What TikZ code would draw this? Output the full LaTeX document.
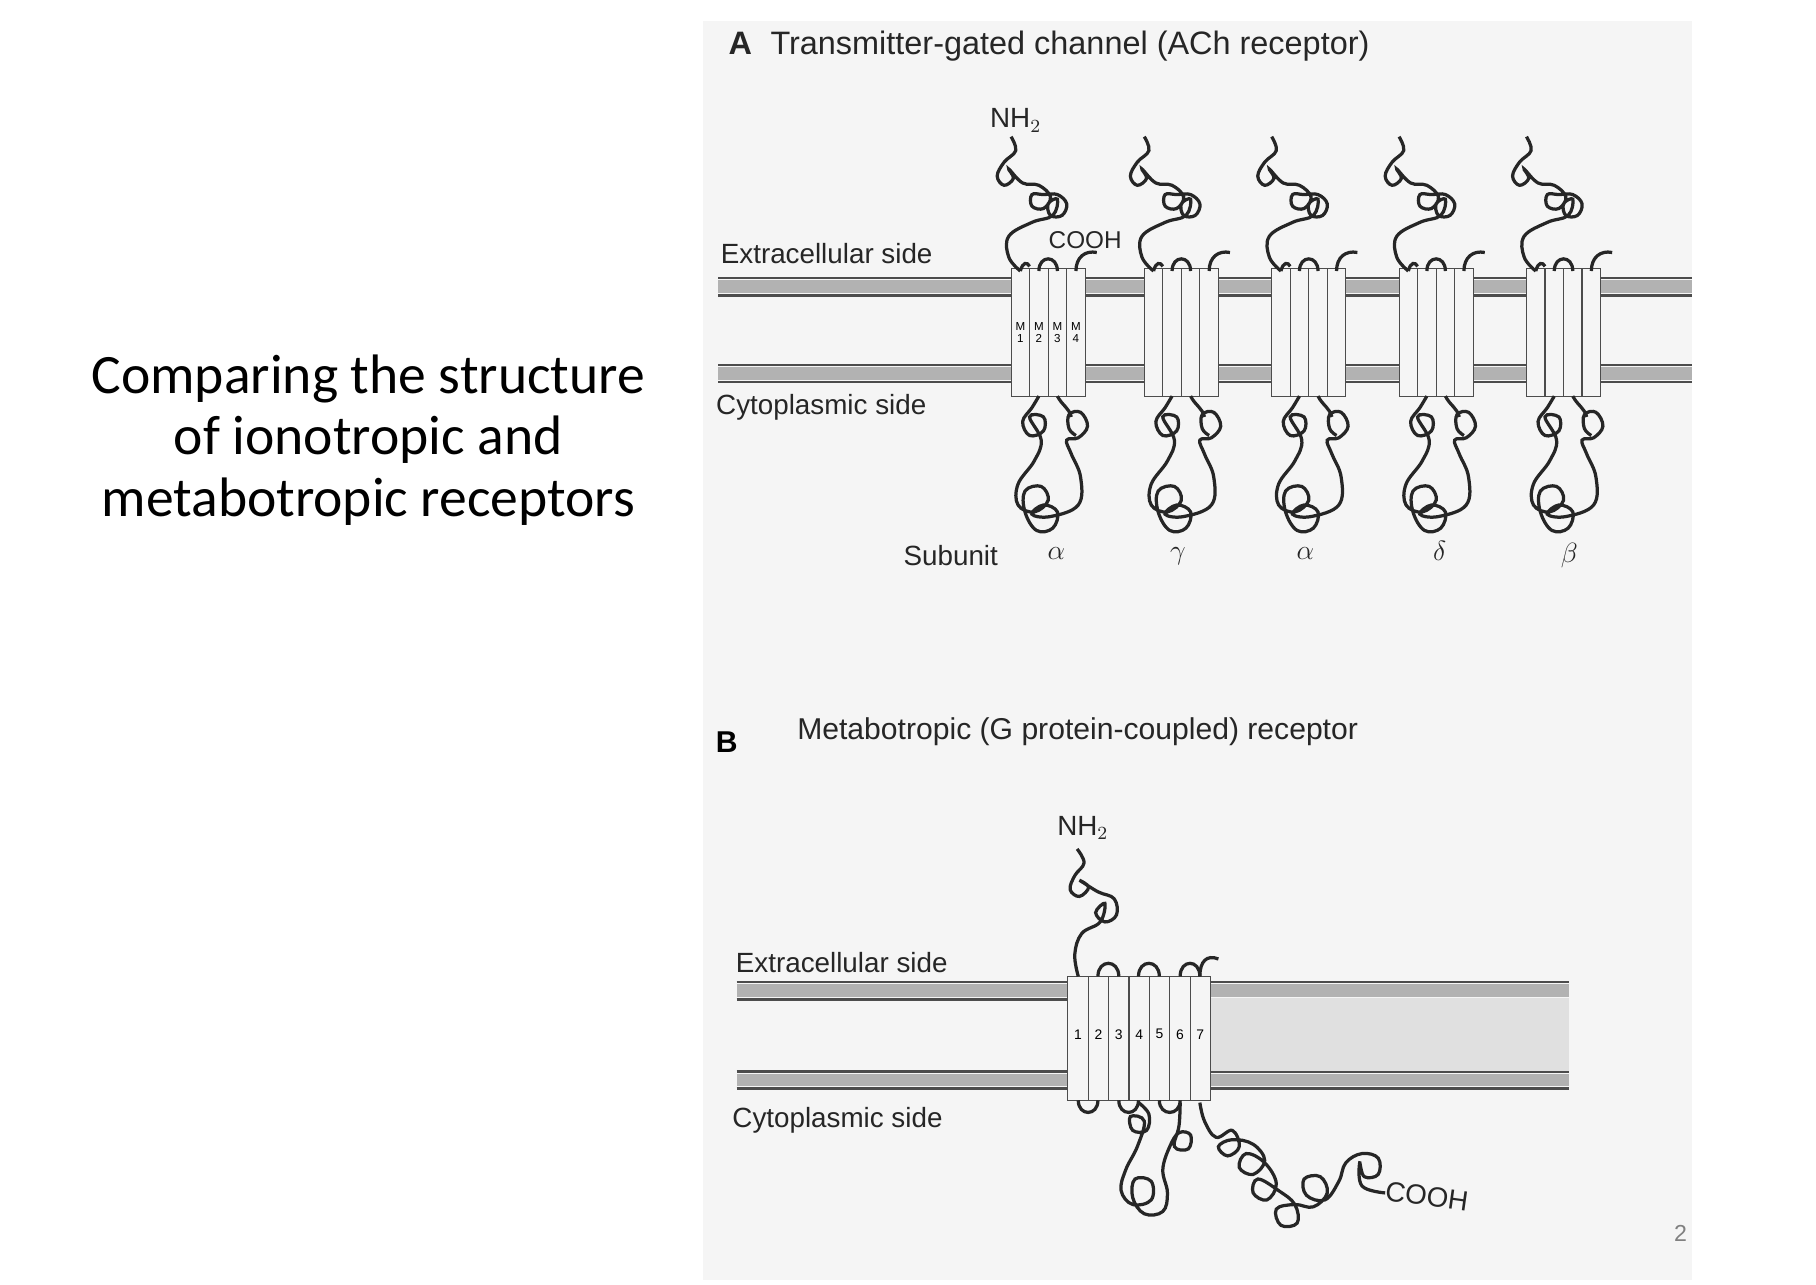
\documentclass[tikz,border=0pt]{standalone}
\usepackage{fontspec}
\setmainfont{Liberation Sans}
\newfontfamily\titlefont{Carlito}
\begin{document}
\begin{tikzpicture}[x=0.5pt,y=-0.5pt,
  lbl/.style={font=\fontsize{12}{14}\selectfont, text=black!85, inner sep=0pt},
  chain/.style={line width=1.4pt, black!85},
  helix/.style={draw=black!70, fill=white!92!gray, line width=0.5pt},
  memline/.style={line width=1.1pt, black!70}]
\useasboundingbox (0,0) rectangle (1568,1109);
\fill[white] (0,0) rectangle (1568,1109);
\fill[black!4] (607,18) rectangle (1461,1105);
% Title
\node[font=\titlefont\fontsize{24}{26.5}\selectfont, align=center] (title) at (318,380)
  {Comparing the structure\\of ionotropic and\\metabotropic receptors};
% Panel A
\node[anchor=west, font=\fontsize{14}{16}\selectfont, text=black!85] (ta) at (622,40) {\textbf{A}\hspace{8pt}Transmitter-gated channel (ACh receptor)};
\foreach \ya in {240,315}{
  \fill[black!30] (620,\ya+2) rectangle (1461,\ya+13);
  \draw[memline] (620,\ya) -- (1461,\ya);
  \draw[memline] (620,\ya+15) -- (1461,\ya+15);
}
\node[lbl, anchor=west] (exa) at (622,219) {Extracellular side};
\node[lbl, anchor=west] (cya) at (618,352) {Cytoplasmic side};
\node[lbl] (nh2a) at (877,104) {NH$_2$};
\node[lbl, font=\fontsize{10.5}{12}\selectfont] (cooha) at (937,207) {COOH};
\foreach \cx in {905,1020,1130,1240,1350}{
  \begin{scope}[xshift=\cx*0.5pt]
  \foreach \c in {-24,-8,8,24}{\draw[helix] (\c-8,232) rectangle (\c+8,342);}
  \draw[chain] plot[smooth, tension=0.65] coordinates {(-32,118) (-28,130) (-38,140) (-44,152) (-38,160) (-30,154) (-34,146) (-22,158) (-8,160) (2,170) (-4,180) (-14,178) (-14,168) (-4,168) (8,168) (16,176) (12,186) (2,186) (0,176) (8,172) (4,186) (-14,192) (-34,204) (-34,222) (-24,234)};
  \draw[chain] (-8,234) .. controls (-8,220) and (8,220) .. (8,234);
  \draw[chain] (-24,234) .. controls (-22,226) and (-18,226) .. (-16,230);
  \draw[chain] (24,234) .. controls (24,222) and (32,216) .. (42,218);
  \draw[chain] plot[smooth, tension=0.65] coordinates {(-8,342) (-14,352) (-22,364) (-16,376) (-4,372) (-4,360) (-16,360) (-6,380) (-12,398) (-26,418) (-26,436) (-12,442) (0,432) (-6,420) (-20,424) (-20,442) (-10,458) (4,456) (8,442) (-4,436) (-14,444) (2,446) (26,436) (28,412) (20,392) (16,380) (26,378) (34,368) (28,356) (18,358) (18,370) (24,376)};
  \draw[chain] (8,342) .. controls (12,350) and (18,352) .. (20,360);
  \end{scope}
}
\foreach \c/\n in {-24/1,-8/2,8/3,24/4}{
  \node[font=\fontsize{5}{5}\selectfont, align=center, inner sep=0pt] at (905+\c,287) {M\\\n};
}
\node[lbl, anchor=east] (sub) at (862,480) {Subunit};
\node[lbl, font=\fontsize{13}{14}\selectfont] (s1) at (912,478) {$\alpha$};
\node[lbl, font=\fontsize{13}{14}\selectfont] (s2) at (1017,480) {$\gamma$};
\node[lbl, font=\fontsize{13}{14}\selectfont] (s3) at (1127,478) {$\alpha$};
\node[lbl, font=\fontsize{13}{14}\selectfont] (s4) at (1243,476) {$\delta$};
\node[lbl, font=\fontsize{13}{14}\selectfont] (s5) at (1355,480) {$\beta$};
% Panel B
\node[anchor=west, font=\bfseries\fontsize{13}{15}\selectfont] (tb) at (611,641) {B};
\node[anchor=west, lbl, font=\fontsize{13}{15}\selectfont] (tbt) at (688,632) {Metabotropic (G protein-coupled) receptor};
\foreach \ya in {848,925}{
  \fill[black!30] (636,\ya+2) rectangle (1355,\ya+13);
  \draw[memline] (636,\ya) -- (1355,\ya);
  \draw[memline] (636,\ya+15) -- (1355,\ya+15);
}
\fill[black!12] (1045,862) rectangle (1355,925);
\node[lbl, anchor=west] (exb) at (635,831) {Extracellular side};
\node[lbl, anchor=west] (cyb) at (632,967) {Cytoplasmic side};
\node[lbl] (nh2b) at (935,715) {NH$_2$};
\foreach \i in {1,...,7}{
  \draw[helix] (922+\i*17.6-17.6,843) rectangle (922+\i*17.6,950);
  \node[font=\fontsize{6}{6}\selectfont, inner sep=0pt] at (922+\i*17.6-8.8,893) {\i};
}
\draw[chain] plot[smooth, tension=0.65] coordinates {(930,733) (936,745) (928,756) (924,768) (932,774) (940,766) (932,760) (948,770) (962,776) (964,790) (954,796) (946,788) (954,780) (950,796) (934,806) (928,824) (931,843)};
\foreach \a/\b in {948/966,983/1001,1019/1036}{
  \draw[chain] (\a,843) .. controls (\a,828) and (\b,828) .. (\b,843);
}
\draw[chain] (1036,843) .. controls (1036,830) and (1042,824) .. (1052,828);
\foreach \a/\b in {931/948,966/983,1001/1019}{
  \draw[chain] (\a,950) .. controls (\a,964) and (\b,964) .. (\b,950);
}
\draw[chain] plot[smooth, tension=0.65] coordinates {(983,952) (992,962) (990,976) (978,976) (976,964) (988,968) (982,990) (972,1010) (968,1028) (978,1040) (994,1036) (994,1020) (980,1018) (978,1034) (988,1048) (1004,1046) (1008,1030) (1004,1010) (1010,990) (1018,978) (1028,980) (1026,992) (1014,990) (1018,972) (1019,952)};
\draw[chain] plot[smooth, tension=0.65] coordinates {(1036,952) (1040,968) (1050,982) (1064,976) (1070,990) (1060,998) (1052,990) (1064,984) (1082,988) (1092,1002) (1082,1014) (1070,1008) (1076,996) (1092,1004) (1102,1022) (1094,1036) (1082,1030) (1086,1018) (1104,1028) (1118,1040) (1120,1056) (1106,1058) (1102,1044) (1118,1040) (1134,1042) (1146,1030) (1140,1016) (1126,1018) (1128,1032) (1144,1036) (1156,1020) (1162,1004) (1176,996) (1190,1000) (1190,1014) (1178,1016) (1174,1004) (1176,1024) (1196,1030)};
\node[lbl, rotate=-8] (coohb) at (1232,1033) {COOH};
\node[text=black!50, font=\fontsize{10}{12}\selectfont] (pg) at (1451,1065) {2};
\end{tikzpicture}
\end{document}
